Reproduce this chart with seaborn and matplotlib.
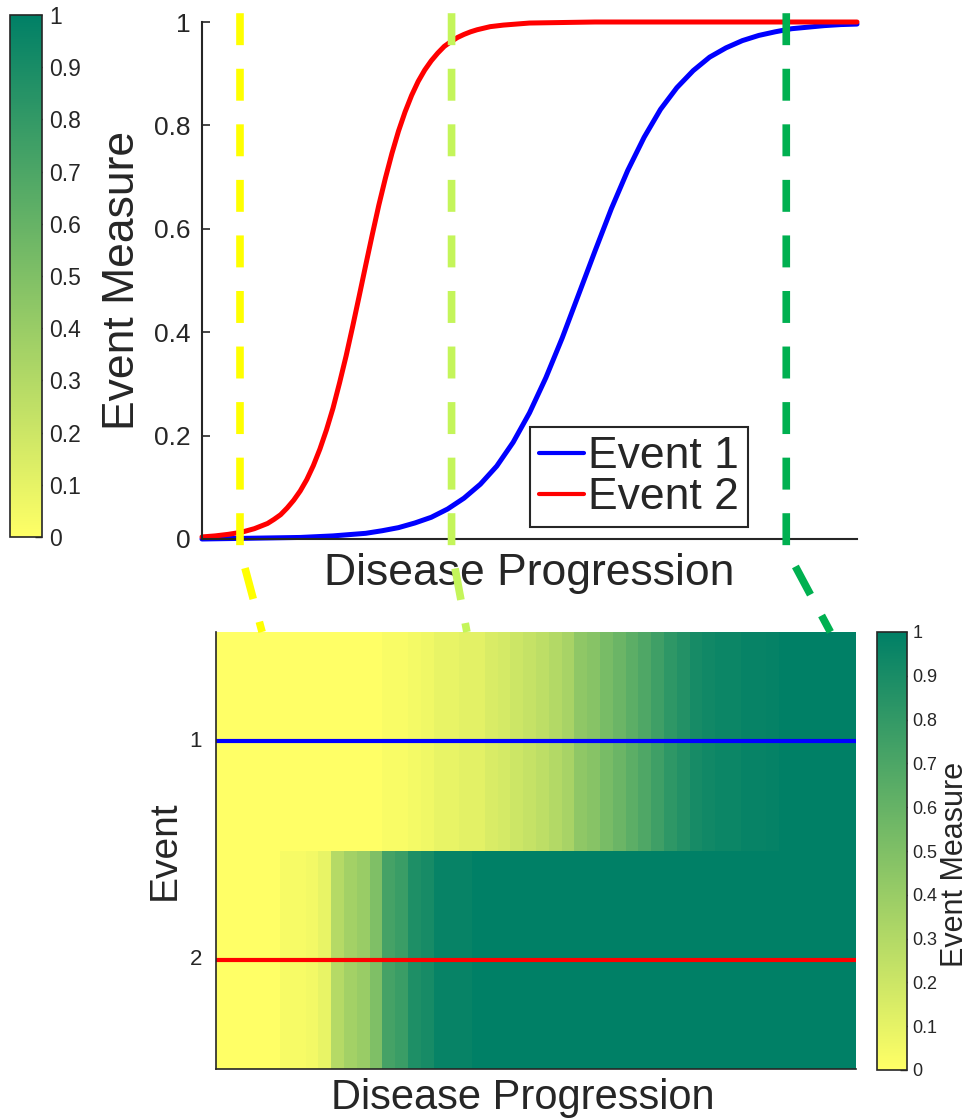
import numpy as np
import pandas as pd
import matplotlib
matplotlib.use("Agg")
import matplotlib.pyplot as plt
import seaborn as sns
from matplotlib.lines import Line2D
from matplotlib.cm import ScalarMappable
from matplotlib.colors import Normalize
from matplotlib.ticker import FuncFormatter

# ---------------------------------------------------------------- data
# Event measure curves along disease progression (0 = start, 1 = end)
event1_progress = [0.0, 0.05, 0.10, 0.15, 0.20, 0.25, 0.275, 0.30, 0.325, 0.35,
                   0.375, 0.40, 0.425, 0.45, 0.475, 0.50, 0.525, 0.55, 0.575, 0.60,
                   0.625, 0.65, 0.675, 0.70, 0.725, 0.75, 0.775, 0.80, 0.825, 0.85,
                   0.875, 0.90, 0.925, 0.95, 0.975, 1.0]
event1_measure = [0.0, 0.001, 0.002, 0.003, 0.006, 0.011, 0.016, 0.022, 0.031, 0.042,
                  0.058, 0.079, 0.106, 0.141, 0.187, 0.244, 0.312, 0.389, 0.473, 0.557,
                  0.639, 0.713, 0.777, 0.831, 0.873, 0.906, 0.932, 0.950, 0.964, 0.974,
                  0.981, 0.987, 0.990, 0.993, 0.995, 0.996]

event2_progress = [0.0, 0.02, 0.04, 0.06, 0.08, 0.10, 0.11, 0.12, 0.13, 0.14,
                   0.15, 0.16, 0.17, 0.18, 0.19, 0.20, 0.21, 0.22, 0.23, 0.24,
                   0.25, 0.26, 0.27, 0.28, 0.29, 0.30, 0.31, 0.32, 0.33, 0.34,
                   0.35, 0.36, 0.37, 0.38, 0.39, 0.40, 0.41, 0.42, 0.44, 0.46,
                   0.48, 0.50, 0.55, 0.60, 0.70, 0.80, 0.90, 1.0]
event2_measure = [0.004, 0.006, 0.009, 0.013, 0.020, 0.030, 0.038, 0.047, 0.060, 0.075,
                  0.093, 0.115, 0.142, 0.174, 0.211, 0.253, 0.302, 0.354, 0.411, 0.470,
                  0.530, 0.589, 0.646, 0.698, 0.746, 0.789, 0.826, 0.858, 0.885, 0.907,
                  0.925, 0.940, 0.953, 0.962, 0.970, 0.976, 0.981, 0.985, 0.991, 0.994,
                  0.996, 0.998, 0.999, 1.0, 1.0, 1.0, 1.0, 1.0]

event_names = ["Event 1", "Event 2"]
event_colors = ["#0000ff", "#ff0000"]

# Discretised event measure, 50 progression bins per event
event1_bins = [0.0] * 13 + [0.025, 0.025, 0.045, 0.06, 0.09, 0.09, 0.11, 0.11,
                            0.15, 0.17, 0.20, 0.23, 0.26, 0.30, 0.34, 0.44, 0.47,
                            0.53, 0.58, 0.64, 0.69, 0.75, 0.82, 0.86, 0.91, 0.93,
                            0.95, 0.95, 0.97, 0.97, 0.98] + [1.0] * 6
event2_bins = [0.0] * 5 + [0.035, 0.035, 0.05, 0.09, 0.29, 0.36, 0.40, 0.50, 0.73,
                           0.77, 0.88, 0.91, 0.97, 0.97, 0.97] + [1.0] * 30
event_labels = ["1", "2"]

# Stage markers: position on the curve plot and matching heatmap column
stage_progress = [0.058, 0.381, 0.892]
stage_column = [3.6, 19.6, 48.0]
stage_colors = ["#ffff00", "#c4f55a", "#00b050"]

measure_ticks = [0, 0.2, 0.4, 0.6, 0.8, 1]
colorbar_ticks = [0, 0.1, 0.2, 0.3, 0.4, 0.5, 0.6, 0.7, 0.8, 0.9, 1]

# ---------------------------------------------------------------- style
sns.set_style("white")
plt.rcParams["font.family"] = ["Liberation Sans", "DejaVu Sans"]
plt.rcParams["lines.scale_dashes"] = False
ink = "#262626"
cmap = "summer_r"

W, H = 968, 1119
fig = plt.figure(figsize=(W / 100, H / 100), dpi=100)


def box(x0, y0, x1, y1):
    """Pixel box (top-left origin) -> figure-fraction rect."""
    return [x0 / W, 1 - y1 / H, (x1 - x0) / W, (y1 - y0) / H]


ax_curve = fig.add_axes(box(202, 22, 857, 539))
cax_left = fig.add_axes(box(10, 15, 42, 537))
ax_heat = fig.add_axes(box(216, 632, 856, 1069))
cax_right = fig.add_axes(box(877, 632, 907, 1070))

# ---------------------------------------------------------------- curves
curves = pd.concat([
    pd.DataFrame({"progress": event1_progress, "measure": event1_measure, "event": event_names[0]}),
    pd.DataFrame({"progress": event2_progress, "measure": event2_measure, "event": event_names[1]}),
])
sns.lineplot(data=curves, x="progress", y="measure", hue="event",
             palette=dict(zip(event_names, event_colors)), estimator=None, sort=False,
             lw=3.6, ax=ax_curve, clip_on=False, legend=True)
for line in ax_curve.lines:
    line.set_solid_joinstyle("round")

ax_curve.set_xlim(0, 1)
ax_curve.set_ylim(0, 1)
ax_curve.set_xticks([])
ax_curve.set_yticks(measure_ticks)
ax_curve.yaxis.set_major_formatter(FuncFormatter(lambda v, _: f"{v:g}"))
ax_curve.tick_params(axis="y", direction="in", length=6, width=1.2, labelsize=19,
                     colors=ink, pad=8, left=True)
for side in ("top", "right"):
    ax_curve.spines[side].set_visible(False)
for side in ("left", "bottom"):
    ax_curve.spines[side].set_color(ink)
    ax_curve.spines[side].set_linewidth(1.5)

ax_curve.set_ylabel("Event Measure", fontsize=32, color=ink)
ax_curve.yaxis.label.set_va("center")
ax_curve.yaxis.set_label_coords((123 - 202) / 655, 0.5)
ax_curve.set_xlabel("Disease Progression", fontsize=32, color=ink)
ax_curve.xaxis.label.set_va("baseline")
ax_curve.xaxis.set_label_coords(0.5, -0.089)

old = ax_curve.get_legend()
handles = old.legend_handles
labels = [t.get_text() for t in old.texts]
leg = ax_curve.legend(handles, labels, loc="lower right", bbox_to_anchor=(0.8336, 0.0232),
                      fontsize=32, handlelength=1.0, handletextpad=0.1, borderpad=0.2,
                      labelspacing=0.0, borderaxespad=0, frameon=True, fancybox=False,
                      edgecolor=ink, framealpha=1)
leg.get_frame().set_linewidth(1.5)
for h in leg.legend_handles:
    h.set_linewidth(3.0)

# ---------------------------------------------------------------- colorbar (left)
cb_left = fig.colorbar(ScalarMappable(norm=Normalize(0, 1), cmap=cmap), cax=cax_left,
                       ticks=colorbar_ticks)
cb_left.ax.yaxis.set_major_formatter(FuncFormatter(lambda v, _: f"{v:g}"))
cb_left.ax.tick_params(direction="in", length=5, width=1, labelsize=16.5, colors=ink, pad=5)
cb_left.outline.set_edgecolor(ink)
cb_left.outline.set_linewidth(1.2)

# ---------------------------------------------------------------- heatmap
heat = pd.DataFrame([event1_bins, event2_bins], index=event_labels)
sns.heatmap(heat, ax=ax_heat, cmap=cmap, vmin=0, vmax=1, cbar_ax=cax_right,
            xticklabels=False, yticklabels=True, cbar_kws={"ticks": colorbar_ticks})
for i, c in enumerate(event_colors):
    ax_heat.axhline(i + 0.5, color=c, lw=3)

ax_heat.set_yticklabels(event_labels, rotation=0)
ax_heat.tick_params(axis="y", direction="in", length=4, width=1, labelsize=16,
                    colors=ink, pad=10, left=True)
for side in ("left", "bottom"):
    ax_heat.spines[side].set_visible(True)
    ax_heat.spines[side].set_color(ink)
    ax_heat.spines[side].set_linewidth(1.2)

ax_heat.set_xlabel("Disease Progression", fontsize=30, color=ink)
ax_heat.xaxis.label.set_va("baseline")
ax_heat.xaxis.set_label_coords(0.48, -0.0915)
ax_heat.set_ylabel("Event", fontsize=28, color=ink)
ax_heat.yaxis.label.set_va("center")
ax_heat.yaxis.set_label_coords(-0.08, 0.5)

cb_right = ax_heat.collections[0].colorbar
cb_right.ax.yaxis.set_major_formatter(FuncFormatter(lambda v, _: f"{v:g}"))
cb_right.ax.tick_params(direction="in", length=5, width=1, labelsize=13, colors=ink, pad=4)
cb_right.outline.set_visible(True)
cb_right.outline.set_edgecolor(ink)
cb_right.outline.set_linewidth(1.2)
cb_right.set_label("Event Measure", fontsize=22, color=ink)
cb_right.ax.yaxis.label.set_va("center")
cb_right.ax.yaxis.set_label_coords((955 - 877) / 30, 0.47)

# ---------------------------------------------------------------- stage markers
to_fig = fig.transFigure.inverted()
for xp, xc, col in zip(stage_progress, stage_column, stage_colors):
    pts = np.array([
        ax_curve.transData.transform((xp, 1.017)),
        ax_curve.transData.transform((xp, -0.02)),
        ax_heat.transData.transform((xc, 0)),
    ])
    pts = to_fig.transform(pts)
    fig.add_artist(Line2D(pts[:, 0], pts[:, 1], transform=fig.transFigure, color=col,
                          lw=5.5, linestyle=(0, (23, 17)), dash_capstyle="butt",
                          solid_capstyle="butt", zorder=5))

fig.savefig("out.png", dpi=100)
